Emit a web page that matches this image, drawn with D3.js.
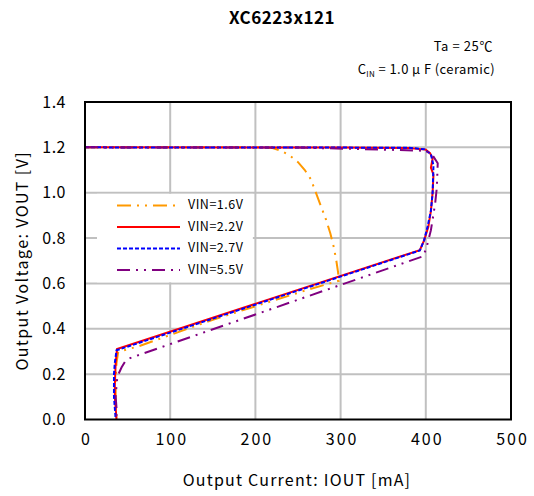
<!DOCTYPE html>
<html>
<head>
<meta charset="utf-8">
<script src="https://cdn.jsdelivr.net/npm/d3@7"></script>
<style>
  body { margin: 0; background: #fff; }
  text { font-family: "Noto Sans CJK JP", "Liberation Sans", sans-serif; fill: #000; }
</style>
</head>
<body>
<svg id="viz" width="534" height="496"></svg>
<script>
// tick values
var xTicks = [0, 100, 200, 300, 400, 500];
var yTicks = [0.0, 0.2, 0.4, 0.6, 0.8, 1.0, 1.2, 1.4];

// series: [IOUT mA, VOUT V]
var vin16 = [
  [0, 1.2], [210, 1.2], [220, 1.197], [230, 1.185], [240, 1.165], [250, 1.135],
  [258, 1.1], [265, 1.06], [271, 1.0], [277, 0.94], [283, 0.88], [288, 0.82],
  [292, 0.76], [295, 0.7], [297, 0.65], [298, 0.612], [264, 0.575], [150, 0.44],
  [64, 0.324], [39, 0.298], [37, 0.25], [36, 0.15], [36, 0.05], [37, 0]
];
var vin22 = [
  [0, 1.2], [300, 1.199], [380, 1.197], [400, 1.19], [405, 1.175], [408, 1.15],
  [406, 1.11], [409, 1.08], [408, 1.0], [406, 0.92], [403, 0.85], [398, 0.79],
  [393, 0.747], [37.6, 0.311], [36, 0.25], [35, 0.15], [35, 0.1], [36, 0.05], [37, 0]
];
var vin27 = [
  [0, 1.2], [300, 1.199], [380, 1.198], [398, 1.192], [406, 1.17], [409, 1.12],
  [408, 1.0], [406, 0.92], [402, 0.85], [398, 0.79], [393, 0.745], [37, 0.305],
  [35, 0.25], [34, 0.2], [34, 0.1], [35, 0.05], [36, 0]
];
var vin55 = [
  [0, 1.2], [250, 1.199], [350, 1.19], [400, 1.185], [408, 1.165], [414, 1.13],
  [413, 1.025], [411, 0.953], [406, 0.835], [401, 0.76], [397, 0.72], [53, 0.271],
  [47, 0.255], [43, 0.23], [38, 0.19], [37, 0.15], [36, 0.1], [37, 0.05], [37, 0]
];

var seriesNames = ["VIN=1.6V", "VIN=2.2V", "VIN=2.7V", "VIN=5.5V"];
var seriesColors = ["#ff9900", "#ff0000", "#0000ff", "#800080"];
var seriesDash = ["14,6,2,6,2,6", null, "4,2", "13,6,2,6,2,6"];

function drawChart() {
  var svg = d3.select("#viz");
  var margin = { top: 102, left: 85, bottom: 76.5, right: 23 };
  var width = 534 - margin.left - margin.right;
  var height = 496 - margin.top - margin.bottom;

  var x = d3.scaleLinear().domain([0, 500]).range([0, width]);
  var y = d3.scaleLinear().domain([0, 1.4]).range([height, 0]);

  // title and notes
  svg.append("text")
    .attr("x", 282).attr("y", 24)
    .attr("text-anchor", "middle")
    .style("font-size", "17px").style("font-weight", "bold")
    .style("letter-spacing", "0.5px")
    .text("XC6223x121");

  svg.append("text")
    .attr("x", 493).attr("y", 51)
    .attr("text-anchor", "end")
    .style("font-size", "13px")
    .style("letter-spacing", "0.6px")
    .text("Ta = 25℃");

  var cin = svg.append("text")
    .attr("x", 495).attr("y", 74)
    .attr("text-anchor", "end")
    .style("font-size", "13px")
    .style("letter-spacing", "0.4px");
  cin.append("tspan").text("C");
  cin.append("tspan").attr("dy", 3).style("font-size", "8px").text("IN");
  cin.append("tspan").attr("dy", -3).text(" = 1.0 μ F (ceramic)");

  var chart = svg.append("g")
    .attr("transform", "translate(" + margin.left + "," + margin.top + ")");

  // grid
  chart.append("g")
    .selectAll("line")
    .data(xTicks.slice(1, -1))
    .enter()
    .append("line")
    .attr("x1", function (d) { return x(d); })
    .attr("x2", function (d) { return x(d); })
    .attr("y1", 0).attr("y2", height)
    .attr("stroke", "#c0c0c0").attr("stroke-width", 2);

  chart.append("g")
    .selectAll("line")
    .data(yTicks.slice(1, -1))
    .enter()
    .append("line")
    .attr("x1", 0).attr("x2", width)
    .attr("y1", function (d) { return y(d); })
    .attr("y2", function (d) { return y(d); })
    .attr("stroke", "#c0c0c0").attr("stroke-width", 2);

  // legend background covers the grid
  chart.append("rect")
    .attr("x", 12).attr("y", y(0.995))
    .attr("width", x(197) - 12).attr("height", y(0.605) - y(0.995))
    .attr("fill", "#fff");

  // axes labels
  var xAxis = chart.append("g")
    .attr("transform", "translate(0," + height + ")")
    .call(d3.axisBottom(x).tickValues(xTicks).tickSize(0).tickPadding(14));
  xAxis.select(".domain").remove();
  xAxis.selectAll("text")
    .attr("dx", 1)
    .style("font-size", "16px")
    .style("letter-spacing", "2px")
    .style("font-family", "'Noto Sans CJK JP', sans-serif");

  var yAxis = chart.append("g")
    .call(d3.axisLeft(y).tickValues(yTicks).tickFormat(d3.format(".1f")).tickSize(0).tickPadding(19));
  yAxis.select(".domain").remove();
  yAxis.selectAll("text")
    .style("font-size", "16px")
    .style("letter-spacing", "0.5px")
    .style("font-family", "'Noto Sans CJK JP', sans-serif");

  // lines
  var line = d3.line()
    .x(function (d) { return x(d[0]); })
    .y(function (d) { return y(d[1]); });

  var allSeries = [vin16, vin22, vin27, vin55];
  chart.append("defs").append("clipPath").attr("id", "clip")
    .append("rect").attr("width", width).attr("height", height);

  chart.append("g")
    .attr("clip-path", "url(#clip)")
    .selectAll("path")
    .data(allSeries)
    .enter()
    .append("path")
    .attr("fill", "none")
    .attr("stroke", function (d, i) { return seriesColors[i]; })
    .attr("stroke-width", 2)
    .attr("stroke-dasharray", function (d, i) { return seriesDash[i]; })
    .attr("d", line);

  // frame
  chart.append("rect")
    .attr("width", width).attr("height", height)
    .attr("fill", "none")
    .attr("stroke", "#000").attr("stroke-width", 2);

  // legend
  var legend = chart.append("g")
    .selectAll("g")
    .data(seriesNames)
    .enter()
    .append("g")
    .attr("transform", function (d, i) { return "translate(0," + (y(0.944) + i * 21.5) + ")"; });

  legend.append("line")
    .attr("x1", 32).attr("x2", 95)
    .attr("stroke", function (d, i) { return seriesColors[i]; })
    .attr("stroke-width", 2)
    .attr("stroke-dasharray", function (d, i) { return seriesDash[i]; });

  legend.append("text")
    .attr("x", 103).attr("y", 4)
    .style("font-size", "12.5px")
    .style("letter-spacing", "0.5px")
    .text(function (d) { return d; });

  // axis titles
  svg.append("text")
    .attr("x", 297).attr("y", 486)
    .attr("text-anchor", "middle")
    .style("font-size", "16px")
    .style("letter-spacing", "1.2px")
    .text("Output Current: IOUT [mA]");

  svg.append("text")
    .attr("transform", "translate(28," + (margin.top + height / 2) + ") rotate(-90)")
    .attr("text-anchor", "middle")
    .style("font-size", "16px")
    .style("letter-spacing", "1.4px")
    .text("Output Voltage: VOUT [V]");
}

drawChart();
</script>
</body>
</html>
